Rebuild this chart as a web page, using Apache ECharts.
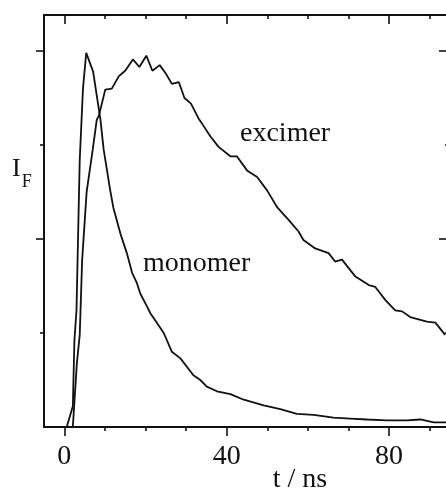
<!DOCTYPE html>
<html>
<head>
<meta charset="utf-8">
<script src="https://cdn.jsdelivr.net/npm/echarts@6/dist/echarts.min.js"></script>
<style>
  html, body { margin: 0; padding: 0; background: #fff; }
  #chart { width: 446px; height: 491px; }
</style>
</head>
<body>
<div id="chart"></div>
<script>
// Fluorescence decay traces: time in ns, intensity in arbitrary units
const monomerT = [0.6, 2.1, 2.5, 3.0, 3.8, 4.6, 5.4, 7.1, 8.9, 9.7, 11.3, 12.1, 13.8, 15.4, 16.7, 17.9, 18.7, 20.4, 21.2, 24.5, 26.5, 28.6, 31.8, 33.5, 35.1, 37.6, 40.9, 44.2, 49.1, 53.2, 57.3, 61.4, 66.3, 70.4, 74.6, 79.5, 84.4, 87.7, 91.0, 94.1];
const monomerI = [0.0, 0.22, 0.93, 1.24, 2.84, 3.60, 3.98, 3.78, 3.27, 2.95, 2.52, 2.33, 2.06, 1.85, 1.64, 1.53, 1.42, 1.28, 1.21, 1.00, 0.80, 0.73, 0.55, 0.50, 0.43, 0.38, 0.35, 0.29, 0.23, 0.19, 0.14, 0.13, 0.10, 0.09, 0.08, 0.07, 0.07, 0.08, 0.05, 0.05];

const excimerT = [2.1, 3.1, 3.8, 4.4, 5.5, 7.0, 8.0, 8.5, 10.1, 11.7, 13.4, 15.0, 16.9, 18.5, 20.2, 21.7, 23.5, 25.0, 26.5, 28.2, 29.6, 31.2, 33.1, 33.9, 36.0, 38.0, 40.9, 42.5, 45.0, 47.5, 49.9, 52.4, 55.3, 57.7, 58.9, 61.8, 65.1, 66.7, 68.4, 71.7, 75.0, 76.6, 79.1, 81.5, 83.2, 85.2, 89.3, 91.4, 93.8];
const excimerI = [0.0, 0.68, 0.98, 1.78, 2.50, 2.95, 3.27, 3.31, 3.59, 3.60, 3.73, 3.79, 3.91, 3.83, 3.95, 3.79, 3.85, 3.76, 3.65, 3.67, 3.50, 3.44, 3.28, 3.23, 3.09, 2.98, 2.88, 2.88, 2.73, 2.66, 2.52, 2.34, 2.20, 2.08, 1.99, 1.90, 1.85, 1.76, 1.78, 1.60, 1.51, 1.49, 1.35, 1.24, 1.23, 1.17, 1.12, 1.11, 0.98];

// Tick positions
const xMajorTicks = [0, 40, 80];
const xMinorTicks = [10, 20, 30, 50, 60, 70, 90];
const yMajorTicks = [2, 4];
const yMinorTicks = [1, 3];

const X_MIN = -5, X_MAX = 95;
const Y_MIN = 0, Y_MAX = 4.383;

const INK = '#111';
const SERIF = '"Liberation Serif", "DejaVu Serif", serif';

function zip(t, v) { return t.map((x, i) => [x, v[i]]); }

function xAx(position, ticks, len, inside, opts) {
  return Object.assign({
    type: 'value', position: position, min: X_MIN, max: X_MAX,
    splitLine: { show: false },
    axisLine: { show: false, onZero: false },
    axisTick: { show: true, customValues: ticks, length: len, inside: inside,
                lineStyle: { color: INK, width: 1.6 } },
    axisLabel: { show: false }
  }, opts || {});
}
function yAx(position, ticks, len, inside, opts) {
  return Object.assign({
    type: 'value', position: position, min: Y_MIN, max: Y_MAX,
    splitLine: { show: false },
    axisLine: { show: false, onZero: false },
    axisTick: { show: true, customValues: ticks, length: len, inside: inside,
                lineStyle: { color: INK, width: 1.6 } },
    axisLabel: { show: false }
  }, opts || {});
}

const chart = echarts.init(document.getElementById('chart'), null, { renderer: 'canvas' });

chart.setOption({
  animation: false,
  backgroundColor: '#fff',
  // the frame runs a little past the right edge of the canvas
  grid: { left: 44, top: 15, width: 406, height: 412,
          containLabel: false, outerBoundsMode: 'none' },
  xAxis: [
    xAx('bottom', xMajorTicks, 9, false, {
      axisLine: { show: true, onZero: false, lineStyle: { color: INK, width: 2 } },
      axisLabel: { show: true, customValues: xMajorTicks, margin: 16,
                   color: INK, fontFamily: SERIF, fontSize: 28 }
    }),
    xAx('bottom', xMinorTicks, 4, false),
    xAx('top', xMajorTicks, 9, true, {
      axisLine: { show: true, onZero: false, lineStyle: { color: INK, width: 2 } }
    }),
    xAx('top', xMinorTicks, 4, true)
  ],
  yAxis: [
    yAx('left', yMajorTicks, 8, false, {
      axisLine: { show: true, onZero: false, lineStyle: { color: INK, width: 2 } }
    }),
    yAx('left', yMinorTicks, 4, false),
    yAx('right', yMajorTicks, 11, true, {
      axisLine: { show: true, onZero: false, lineStyle: { color: INK, width: 2 } }
    }),
    yAx('right', yMinorTicks, 5, true)
  ],
  series: [
    {
      name: 'monomer', type: 'line', xAxisIndex: 0, yAxisIndex: 0,
      data: zip(monomerT, monomerI), showSymbol: false, smooth: false,
      lineStyle: { color: INK, width: 1.8 }, clip: true
    },
    {
      name: 'excimer', type: 'line', xAxisIndex: 0, yAxisIndex: 0,
      data: zip(excimerT, excimerI), showSymbol: false, smooth: false,
      lineStyle: { color: INK, width: 1.8 }, clip: true
    }
  ],
  graphic: [
    {
      type: 'text', left: 240, top: 120,
      style: { text: 'excimer', font: '28px ' + SERIF, fill: INK }
    },
    {
      type: 'text', left: 143, top: 250,
      style: { text: 'monomer', font: '28px ' + SERIF, fill: INK }
    },
    {
      type: 'text', x: 300, y: 480,
      style: { text: 't / ns', font: '28px ' + SERIF, fill: INK,
               align: 'center', verticalAlign: 'middle' }
    },
    {
      type: 'text', left: 12, top: 156,
      style: {
        text: '{i|I}{f|F}',
        rich: {
          i: { font: '26px ' + SERIF, fill: INK, verticalAlign: 'bottom', lineHeight: 26 },
          f: { font: '18px ' + SERIF, fill: INK, verticalAlign: 'bottom', lineHeight: 26, padding: [0, 0, -9, 1] }
        }
      }
    }
  ]
});
</script>
</body>
</html>
